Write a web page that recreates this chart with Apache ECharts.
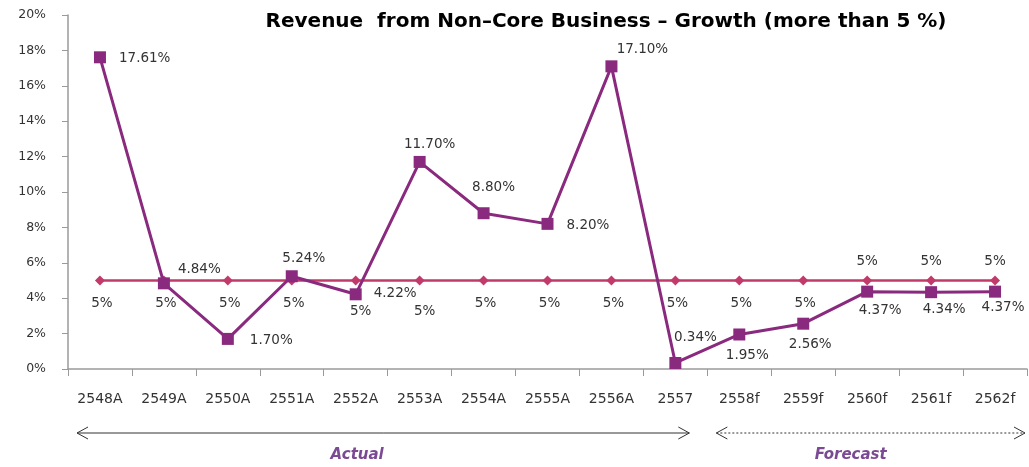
<!DOCTYPE html>
<html>
<head>
<meta charset="utf-8">
<title>Revenue from Non-Core Business - Growth</title>
<script src="https://cdn.jsdelivr.net/npm/echarts@6/dist/echarts.min.js"></script>
<style>
  html, body { margin: 0; padding: 0; background: #ffffff; }
  #chart { width: 1029px; height: 467px; }
</style>
</head>
<body>
<div id="chart"></div>
<script>
// Fiscal years (A = actual, f = forecast)
const years = ['2548A', '2549A', '2550A', '2551A', '2552A', '2553A', '2554A', '2555A', '2556A', '2557', '2558f', '2559f', '2560f', '2561f', '2562f'];
// Growth of non-core revenue, %
const growth = [17.61, 4.84, 1.70, 5.24, 4.22, 11.70, 8.80, 8.20, 17.10, 0.34, 1.95, 2.56, 4.37, 4.34, 4.37];
// Reference growth rate, %
const benchmark = [5, 5, 5, 5, 5, 5, 5, 5, 5, 5, 5, 5, 5, 5, 5];
// Y axis ticks, %
const yTicks = [0, 2, 4, 6, 8, 10, 12, 14, 16, 18, 20];
const actualCount = 10; // first ten years are actual figures

// Label placement for each growth point
const growthLabelStyle = [
  { position: 'right', distance: 13, offset: [0, 1] },
  { position: 'right', distance: 8, offset: [0, -14] },
  { position: 'right', distance: 16, offset: [0, 2] },
  { position: 'top', distance: 5, offset: [12, 0] },
  { position: 'right', distance: 12, offset: [0, -1] },
  { position: 'top', distance: 4, offset: [10, 0] },
  { position: 'top', distance: 13, offset: [10, 0] },
  { position: 'right', distance: 13, offset: [0, 2] },
  { position: 'top', distance: 4, offset: [31, 0] },
  { position: 'top', distance: 12, offset: [20, 0] },
  { position: 'bottom', distance: 8, offset: [8, 0] },
  { position: 'bottom', distance: 8, offset: [7, 0] },
  { position: 'bottom', distance: 6, offset: [13, 0] },
  { position: 'bottom', distance: 4, offset: [13, 0] },
  { position: 'bottom', distance: 3, offset: [8, 0] }
];
// Label placement for each benchmark point
const benchLabelStyle = years.map((y, i) => {
  if (i >= 12) return { position: 'top', distance: 7, offset: [0, 0] };
  if (i === 4 || i === 5) return { position: 'bottom', distance: 19, offset: [5, 0] };
  return { position: 'bottom', distance: 11, offset: [2, 0] };
});

const labelFont = { fontFamily: 'DejaVu Sans', fontSize: 13.5, color: '#333333' };

const chart = echarts.init(document.getElementById('chart'), null, { renderer: 'canvas' });

const option = {
  animation: false,
  backgroundColor: '#ffffff',
  title: {
    text: 'Revenue  from Non\u2013Core Business \u2013 Growth (more than 5 %)',
    left: 601,
    textAlign: 'center',
    top: 7,
    textStyle: { fontFamily: 'DejaVu Sans', fontWeight: 'bold', fontSize: 20, color: '#000000' }
  },
  grid: { left: 68, right: 2, top: 15, bottom: 98, containLabel: false },
  xAxis: {
    type: 'category',
    data: years,
    boundaryGap: true,
    axisLine: { lineStyle: { color: '#9a9a9a', width: 1.5 } },
    axisTick: { show: true, length: 7, lineStyle: { color: '#9a9a9a' } },
    axisLabel: { margin: 23, fontFamily: 'DejaVu Sans', fontSize: 14, color: '#333333' },
    splitLine: { show: false }
  },
  yAxis: {
    type: 'value',
    min: yTicks[0],
    max: yTicks[yTicks.length - 1],
    interval: yTicks[1] - yTicks[0],
    axisLine: { show: true, lineStyle: { color: '#9a9a9a', width: 1.5 } },
    axisTick: { show: true, length: 6, lineStyle: { color: '#9a9a9a' } },
    axisLabel: { margin: 22, fontFamily: 'DejaVu Sans', fontSize: 12.5, color: '#333333', formatter: '{value}%' },
    splitLine: { show: false }
  },
  series: [
    {
      name: 'Benchmark',
      type: 'line',
      data: benchmark.map((v, i) => ({
        value: v,
        label: Object.assign({ show: true, formatter: v + '%' }, labelFont, benchLabelStyle[i])
      })),
      symbol: 'diamond',
      symbolSize: 10,
      lineStyle: { color: '#c23a6a', width: 2.5 },
      itemStyle: { color: '#c23a6a' },
      z: 2
    },
    {
      name: 'Growth',
      type: 'line',
      data: growth.map((v, i) => ({
        value: v,
        label: Object.assign({ show: true, formatter: v.toFixed(2) + '%' }, labelFont, growthLabelStyle[i])
      })),
      symbol: 'rect',
      symbolSize: 12,
      lineStyle: { color: '#8a2a7e', width: 3 },
      itemStyle: { color: '#8a2a7e' },
      z: 3
    }
  ]
};

chart.setOption(option);

// Period arrows under the axis, placed from the category band edges
const c0 = chart.convertToPixel({ xAxisIndex: 0 }, years[0]);
const c1 = chart.convertToPixel({ xAxisIndex: 0 }, years[1]);
const band = c1 - c0;
const edge = i => c0 - band / 2 + i * band;
const arrowY = 433;
const textY = 455;
const head = (x, dir) => ({
  type: 'polyline',
  shape: { points: [[x - dir * 11, arrowY - 6], [x, arrowY], [x - dir * 11, arrowY + 6]] },
  style: { stroke: '#333333', lineWidth: 1, fill: null }
});

const aX1 = edge(0) + 9, aX2 = edge(actualCount) - 18;
const fX1 = edge(actualCount) + 9, fX2 = edge(years.length) - 2;

chart.setOption({
  graphic: [
    { type: 'line', shape: { x1: aX1, y1: arrowY, x2: aX2, y2: arrowY }, style: { stroke: '#333333', lineWidth: 1 } },
    head(aX1, -1), head(aX2, 1),
    { type: 'line', shape: { x1: fX1, y1: arrowY, x2: fX2, y2: arrowY }, style: { stroke: '#333333', lineWidth: 1, lineDash: [2, 2] } },
    head(fX1, -1), head(fX2, 1),
    {
      type: 'text', x: (aX1 + aX2) / 2 - 26, y: textY,
      style: { text: 'Actual', fill: '#7b4a93', font: 'italic bold 15px "DejaVu Sans"', align: 'center', verticalAlign: 'middle' }
    },
    {
      type: 'text', x: (fX1 + fX2) / 2 - 20, y: textY,
      style: { text: 'Forecast', fill: '#7b4a93', font: 'italic bold 15px "DejaVu Sans"', align: 'center', verticalAlign: 'middle' }
    }
  ]
});
</script>
</body>
</html>
